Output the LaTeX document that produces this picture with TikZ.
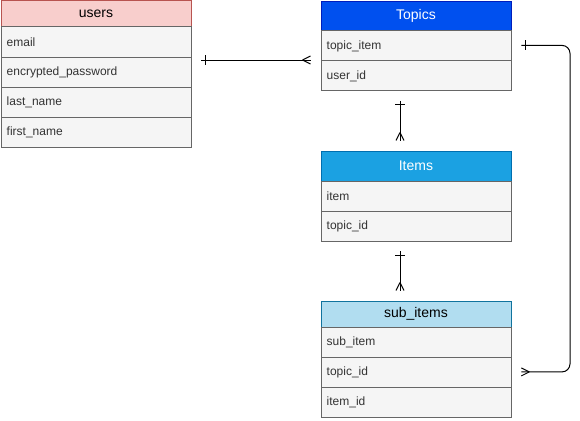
\documentclass[tikz,border=0pt]{standalone}
\usepackage{fontspec}
\setmainfont{Liberation Sans}
\definecolor{rowfill}{HTML}{F5F5F5}
\definecolor{rowline}{HTML}{666666}
\definecolor{rowtext}{HTML}{333333}
\definecolor{uFill}{HTML}{F8CECC}
\definecolor{uLine}{HTML}{B85450}
\definecolor{tFill}{HTML}{0050EF}
\definecolor{tLine}{HTML}{001DBC}
\definecolor{iFill}{HTML}{1BA1E2}
\definecolor{iLine}{HTML}{006EAF}
\definecolor{sFill}{HTML}{B1DDF0}
\definecolor{sLine}{HTML}{10739E}
\begin{document}
\begin{tikzpicture}[x=1pt,y=-1pt,
  hdr/.style={draw, line width=0.8pt, minimum width=190pt, inner sep=0pt, anchor=north west, font=\fontsize{14}{16}\selectfont},
  rowbox/.style={draw=rowline, fill=rowfill, line width=0.8pt, minimum width=190pt, minimum height=30pt, inner sep=0pt, anchor=north west},
  rowlabel/.style={anchor=west, inner sep=0pt, text=rowtext, font=\fontsize{12}{14}\selectfont},
  conn/.style={draw=black, line width=1pt}]
\useasboundingbox (0,0) rectangle (580,420);
% users
\node[hdr, draw=uLine, fill=uFill, minimum height=26pt] (users) at (0.5,0.5) {users};
\foreach \n/\t [count=\i from 0] in {u1/email,u2/encrypted\_password,u3/last\_name,u4/first\_name}{
  \node[rowbox] (\n) at (0.5,26.5+30*\i) {};
  \node[rowlabel] (\n l) at ([xshift=6pt,yshift=-0.5pt]\n.west) {\t};
}
% Topics
\node[hdr, draw=tLine, fill=tFill, text=white, minimum height=29pt] (topics) at (320.5,1) {Topics};
\foreach \n/\t [count=\i from 0] in {t1/topic\_item,t2/user\_id}{
  \node[rowbox] (\n) at (320.5,30+30*\i) {};
  \node[rowlabel] (\n l) at ([xshift=6pt,yshift=-0.5pt]\n.west) {\t};
}
% Items
\node[hdr, draw=iLine, fill=iFill, text=white, minimum height=30pt] (items) at (320.5,150.5) {Items};
\foreach \n/\t [count=\i from 0] in {i1/item,i2/topic\_id}{
  \node[rowbox] (\n) at (320.5,180.5+30*\i) {};
  \node[rowlabel] (\n l) at ([xshift=6pt,yshift=-0.5pt]\n.west) {\t};
}
% sub_items
\node[hdr, draw=sLine, fill=sFill, minimum height=26pt] (subitems) at (320.5,300.5) {sub\_items};
\foreach \n/\t [count=\i from 0] in {s1/sub\_item,s2/topic\_id,s3/item\_id}{
  \node[rowbox] (\n) at (320.5,326.5+30*\i) {};
  \node[rowlabel] (\n l) at ([xshift=6pt,yshift=-0.5pt]\n.west) {\t};
}
\coordinate (vx) at (400,0);
% connector users - Topics
\coordinate (cUa) at ([xshift=10pt]users.east |- t2.north);
\coordinate (cUb) at ([xshift=-10pt]t2.north west);
\draw[conn] (cUa) -- (cUb);
\draw[conn] ([xshift=4pt]cUa) ++(0,-5) -- ++(0,10);
\draw[conn] ([xshift=-8pt]cUb) -- ([yshift=-4pt]cUb) ([xshift=-8pt]cUb) -- ([yshift=4pt]cUb);
% connector Topics - Items
\coordinate (cTa) at ([yshift=-10pt]vx |- t2.south);
\coordinate (cTb) at ([yshift=10pt]vx |- items.north);
\draw[conn] (cTa) -- (cTb);
\draw[conn] ([yshift=-4pt]cTa) ++(-5,0) -- ++(10,0);
\draw[conn] ([yshift=8pt]cTb) -- ([xshift=-4pt]cTb) ([yshift=8pt]cTb) -- ([xshift=4pt]cTb);
% connector Items - sub_items
\coordinate (cIa) at ([yshift=-10pt]vx |- i2.south);
\coordinate (cIb) at ([yshift=10pt]vx |- subitems.north);
\draw[conn] (cIa) -- (cIb);
\draw[conn] ([yshift=-4pt]cIa) ++(-5,0) -- ++(10,0);
\draw[conn] ([yshift=8pt]cIb) -- ([xshift=-4pt]cIb) ([yshift=8pt]cIb) -- ([xshift=4pt]cIb);
% connector Topics.topic_item - sub_items.topic_id
\coordinate (cSa) at ([xshift=10pt]t1.east);
\coordinate (cSb) at ([xshift=10pt]s2.east);
\coordinate (cSc) at (570,0);
\draw[conn, rounded corners=8pt] (cSa) -- (cSc |- cSa) -- (cSc |- cSb) -- (cSb);
\draw[conn] ([xshift=4pt]cSa) ++(0,-5) -- ++(0,10);
\draw[conn] ([xshift=8pt]cSb) -- ([yshift=-4pt]cSb) ([xshift=8pt]cSb) -- ([yshift=4pt]cSb);
\end{tikzpicture}
\end{document}
